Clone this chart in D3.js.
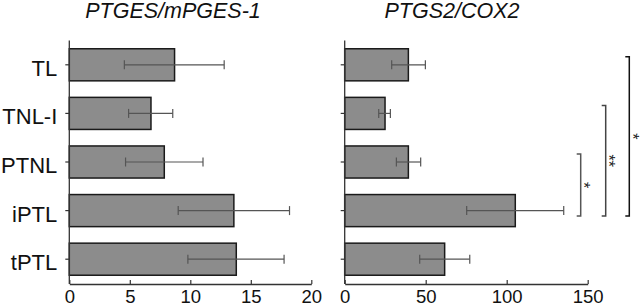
<!DOCTYPE html>
<html><head><meta charset="utf-8">
<script src="https://cdn.jsdelivr.net/npm/d3@7/dist/d3.min.js"></script>
<style>
html,body{margin:0;padding:0;background:#fff;}
svg{display:block;font-family:"Liberation Sans",Arial,sans-serif;}
</style></head>
<body>
<svg id="chart" width="640" height="307"></svg>
<script>
const categories = ["TL", "TNL-I", "PTNL", "iPTL", "tPTL"];
const titles = ["PTGES/mPGES-1", "PTGS2/COX2"];
const ptgesMean = [8.7, 6.75, 7.85, 13.6, 13.8];
const ptgesLow  = [4.55, 4.9, 4.65, 9.0, 9.8];
const ptgesHigh = [12.8, 8.55, 11.05, 18.2, 17.75];
const cox2Mean = [39.3, 24.9, 39.3, 105.3, 61.7];
const cox2Low  = [29.0, 21.0, 31.9, 75.3, 46.3];
const cox2High = [49.8, 28.2, 46.9, 135.2, 77.2];
const ptgesTicks = [0, 5, 10, 15, 20];
const cox2Ticks = [0, 50, 100, 150];
const sigFrom = ["PTNL", "TNL-I", "TL"];
const sigTo = ["iPTL", "iPTL", "iPTL"];
const sigLabel = ["*", "**", "*"];

const svg = d3.select("#chart");
const y = d3.scaleBand().domain(categories).range([40.5, 283.5]).paddingInner(0.34).paddingOuter(0.17);
const axisY = 284;
const FONT = "Liberation Sans, Arial, sans-serif";

const panels = [
  {title: titles[0], mean: ptgesMean, lo: ptgesLow, hi: ptgesHigh, ticks: ptgesTicks, domain: [0, 20], range: [69.3, 311.3], titleX: 173, labels: true},
  {title: titles[1], mean: cox2Mean, lo: cox2Low, hi: cox2High, ticks: cox2Ticks, domain: [0, 150], range: [344.7, 587.7], titleX: 452, labels: false}
];

panels.forEach(p => {
  const x = d3.scaleLinear().domain(p.domain).range(p.range);
  const g = svg.append("g");
  g.append("text").attr("x", p.titleX).attr("y", 18).attr("text-anchor", "middle")
    .attr("font-size", 21.5).attr("font-style", "italic").attr("fill", "#111")
    .attr("font-family", FONT).text(p.title);

  // bars
  g.selectAll("rect.bar").data(categories).join("rect")
    .attr("x", x(0)).attr("y", d => y(d))
    .attr("width", (d, i) => x(p.mean[i]) - x(0))
    .attr("height", y.bandwidth())
    .attr("fill", "#8c8c8c").attr("stroke", "#1a1a1a").attr("stroke-width", 1.5);

  // error bars
  const eb = g.selectAll("g.eb").data(categories).join("g").attr("stroke", "#555").attr("stroke-width", 1.2);
  eb.append("line").attr("x1", (d, i) => x(p.lo[i])).attr("x2", (d, i) => x(p.hi[i]))
    .attr("y1", d => y(d) + y.bandwidth() / 2).attr("y2", d => y(d) + y.bandwidth() / 2);
  eb.append("line").attr("x1", (d, i) => x(p.lo[i])).attr("x2", (d, i) => x(p.lo[i]))
    .attr("y1", d => y(d) + y.bandwidth() / 2 - 4.5).attr("y2", d => y(d) + y.bandwidth() / 2 + 4.5);
  eb.append("line").attr("x1", (d, i) => x(p.hi[i])).attr("x2", (d, i) => x(p.hi[i]))
    .attr("y1", d => y(d) + y.bandwidth() / 2 - 4.5).attr("y2", d => y(d) + y.bandwidth() / 2 + 4.5);

  // x axis
  const xa = g.append("g").attr("transform", `translate(0,${axisY})`)
    .call(d3.axisBottom(x).tickValues(p.ticks).tickSizeInner(-4).tickSizeOuter(0).tickPadding(9));
  xa.select(".domain").attr("stroke", "#333").attr("stroke-width", 1.3);
  xa.selectAll(".tick line").attr("stroke", "#333").attr("stroke-width", 1.2);
  xa.selectAll(".tick text").attr("font-size", 18.5).attr("fill", "#111")
    .attr("font-family", FONT).attr("dy", "0.55em");

  // y axis
  const ya = g.append("g").attr("transform", `translate(${x(0)},0)`)
    .call(d3.axisLeft(y).tickSizeInner(4).tickSizeOuter(0).tickPadding(8));
  ya.select(".domain").attr("stroke", "#333").attr("stroke-width", 1.3)
    .attr("d", `M0,${y.range()[0]}V${axisY}`);
  ya.selectAll(".tick line").attr("stroke", "#333").attr("stroke-width", 1.2);
  ya.selectAll(".tick text").attr("font-size", 22).attr("fill", "#111")
    .attr("font-family", FONT).attr("dy", "0.5em")
    .style("display", p.labels ? null : "none");
});

// significance brackets
const bx = [580.7, 605.7, 629.3];
const bColors = ["#555", "#444", "#111"];
const cy = d => y(d) + y.bandwidth() / 2;
sigFrom.forEach((f, i) => {
  const top = cy(f) - 8, bot = cy(sigTo[i]) + 5.5;
  svg.append("path")
    .attr("d", `M${bx[i] - 4},${top}H${bx[i]}V${bot}H${bx[i] - 4}`)
    .attr("fill", "none").attr("stroke", bColors[i]).attr("stroke-width", 1.5);
  const mid = (top + bot) / 2;
  svg.append("text").attr("transform", `translate(${bx[i] - 2.6},${mid}) rotate(90)`)
    .attr("text-anchor", "middle").attr("font-size", 16).attr("fill", "#222")
    .attr("font-family", FONT).text(sigLabel[i]);
});
</script>
</body></html>
